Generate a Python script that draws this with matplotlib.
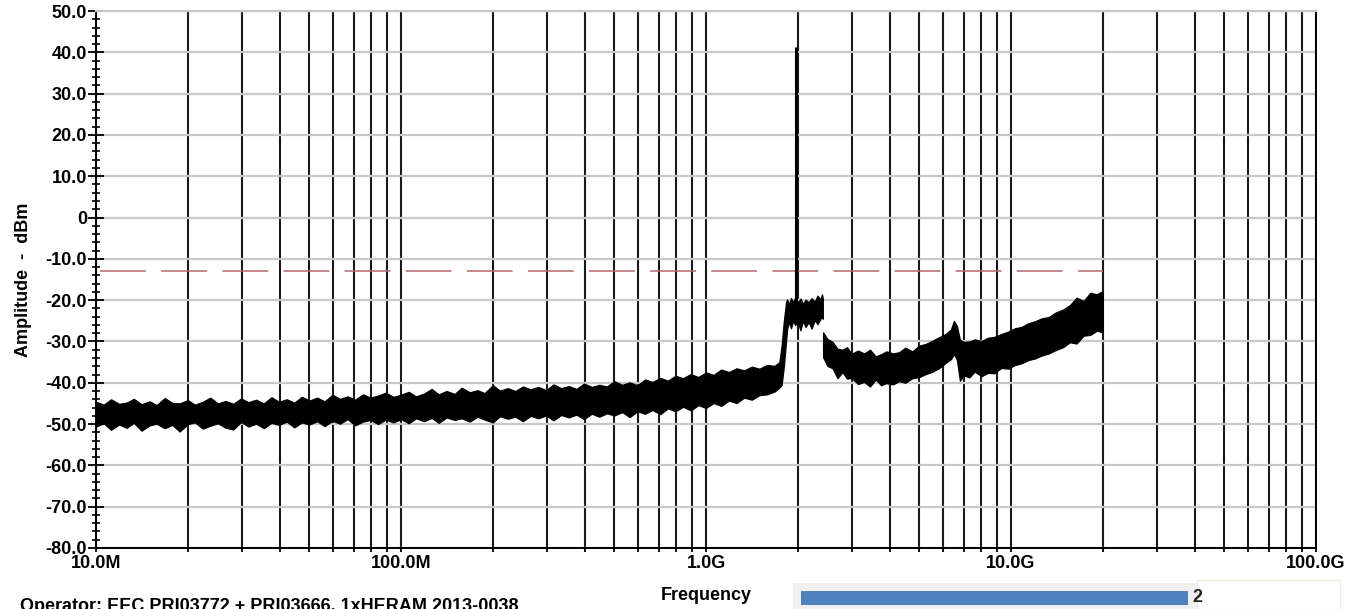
import matplotlib.pyplot as plt
import matplotlib.ticker as mticker
from matplotlib.patches import Rectangle
import numpy as np

plt.rcParams['font.family'] = ['Liberation Sans', 'DejaVu Sans']
plt.rcParams['font.weight'] = 'bold'

# Trace envelope: frequency, upper / lower edge (dBm)
# segment 1: 10 MHz up to the end of the 2 GHz plateau (MHz)
seg1_mhz = [10, 10.6, 11.2, 11.9, 12.6, 13.3, 14.1, 15.0, 15.8, 16.8,
            17.8, 18.8, 20.0, 21.1, 22.4, 23.7, 25.1, 26.6, 28.2, 29.9,
            31.6, 33.5, 35.5, 37.6, 39.8, 42.2, 44.7, 47.3, 50.1, 53.1,
            56.2, 59.6, 63.1, 66.8, 70.8, 75.0, 79.4, 84.1, 89.1, 94.4,
            100, 106, 112, 119, 126, 133, 141, 150, 158, 168,
            178, 188, 200, 211, 224, 237, 251, 266, 282, 299,
            316, 335, 355, 376, 398, 422, 447, 473, 501, 531,
            562, 596, 631, 668, 708, 750, 794, 841, 891, 944,
            1000, 1059, 1122, 1189, 1259, 1334, 1413, 1496, 1585, 1679, 1740,
            1770, 1800, 1830,
            1845, 1870, 1900, 1930, 1960, 2000, 2040, 2080, 2120, 2170, 2220,
            2270, 2320, 2370, 2400, 2415]
seg1_top = [-44.6, -45.3, -44.0, -45.1, -44.8, -43.9, -45.2, -44.5, -45.4, -43.7,
            -44.9, -45.0, -44.2, -45.3, -44.6, -43.6, -45.0, -44.4, -45.1, -43.8,
            -44.7, -44.1, -45.0, -43.5, -44.6, -44.0, -44.8, -43.4, -44.3, -43.6,
            -44.5, -42.9, -43.9, -43.3, -44.1, -42.8, -43.6, -43.1, -42.4, -43.4,
            -42.9, -42.2, -43.3, -42.6, -41.5, -42.8, -42.0, -42.7, -41.2, -42.3,
            -41.8, -42.5, -40.6, -41.9, -41.3, -42.0, -40.9, -41.6, -41.0, -41.8,
            -40.4, -41.3, -40.8, -41.5, -40.2, -41.0, -40.5, -40.9, -39.6, -40.5,
            -39.9, -40.6, -39.2, -39.8, -38.8, -39.5, -38.3, -38.9, -37.9, -38.6,
            -37.5, -38.1, -36.8, -37.4, -36.5, -37.0, -36.1, -36.6, -35.7, -35.9, -35.0,
            -31.0, -25.0, -20.5,
            -19.8, -21.0, -19.5, -20.6, -19.3, -20.8, -19.6, -20.9, -19.9, -20.5,
            -19.5, -20.4, -18.9, -19.8, -18.6, -19.6]
seg1_bot = [-50.6, -49.8, -51.4, -50.1, -50.9, -49.7, -51.6, -50.3, -49.9, -51.0,
            -50.2, -51.8, -50.0, -49.6, -51.1, -50.4, -49.8, -50.9, -51.3, -49.5,
            -50.6, -49.9, -51.0, -49.7, -50.2, -49.4, -50.8, -49.6, -50.1, -49.3,
            -50.5, -49.2, -49.9, -48.8, -50.3, -49.4, -49.0, -50.0, -48.9, -49.6,
            -48.8, -49.8, -48.6, -49.3, -48.5, -49.7, -48.4, -49.0, -48.6, -49.4,
            -48.2, -48.9, -49.6, -48.1, -48.7, -48.2, -49.3, -48.0, -48.6, -47.9,
            -49.1, -47.8, -48.4, -47.7, -48.8, -47.5, -48.2, -47.4, -47.9, -47.1,
            -48.3, -46.9, -47.5, -46.6, -47.6, -46.2, -46.9, -45.8, -46.7, -45.4,
            -46.1, -44.9, -45.6, -44.3, -44.9, -43.6, -44.1, -43.0, -42.8, -42.1, -41.2,
            -40.5, -36.0, -30.0,
            -27.0, -25.2, -26.8, -25.0, -26.0, -25.4, -27.3, -25.0, -26.5, -25.3,
            -26.9, -24.8, -25.8, -24.6, -23.8, -24.5]

# segment 2: 2.42 GHz to 20 GHz (GHz)
seg2_ghz = [2.42, 2.5, 2.6, 2.7, 2.8, 2.9, 3.0, 3.15, 3.3, 3.45, 3.6, 3.75, 3.9,
            4.1, 4.3, 4.5, 4.75, 5.0, 5.25, 5.5, 5.8, 6.1, 6.35, 6.5, 6.65, 6.8,
            7.0, 7.3, 7.6, 8.0, 8.4, 8.8, 9.3, 9.8, 10.3, 10.8, 11.4, 12.0, 12.6,
            13.3, 14.0, 14.8, 15.6, 16.4, 17.3, 18.2, 19.1, 20.0]
seg2_top = [-27.8, -29.4, -30.1, -31.8, -32.0, -31.4, -33.0, -32.2, -32.9, -32.0,
            -33.6, -33.1, -32.4, -32.9, -32.6, -31.5, -32.4, -31.0, -30.6, -29.9,
            -29.0, -28.2, -27.1, -25.0, -26.3, -29.6, -30.1, -30.0, -29.5, -29.9,
            -29.1, -28.9, -28.2, -27.6, -26.8, -26.5, -25.6, -25.1, -24.4, -24.1,
            -23.0, -22.3, -21.2, -19.4, -20.2, -18.2, -18.6, -17.8]
seg2_bot = [-33.8, -35.9, -36.5, -38.9, -37.4, -39.0, -38.8, -40.3, -39.8, -40.9,
            -39.2, -40.6, -40.1, -40.4, -39.6, -40.0, -38.9, -38.6, -37.9, -37.4,
            -36.5, -35.2, -34.3, -33.0, -34.5, -39.5, -38.2, -38.7, -37.3, -38.4,
            -37.6, -37.7, -36.4, -36.6, -35.7, -35.3, -34.5, -34.1, -33.4, -32.9,
            -32.1, -31.4, -30.2, -30.5, -28.6, -28.4, -27.4, -27.8]

carrier_hz = 1.97e9
carrier_base = -22.0
carrier_peak = 41.2

limit_level = -13.0
limit_start_hz = 10e6
limit_stop_hz = 20e9

ytick_vals = [50, 40, 30, 20, 10, 0, -10, -20, -30, -40, -50, -60, -70, -80]
ytick_labels = ['50.0', '40.0', '30.0', '20.0', '10.0', '0', '-10.0', '-20.0',
                '-30.0', '-40.0', '-50.0', '-60.0', '-70.0', '-80.0']
xtick_vals = [10e6, 100e6, 1e9, 10e9, 100e9]
xtick_labels = ['10.0M', '100.0M', '1.0G', '10.0G', '100.0G']

W, H = 1356, 609
fig = plt.figure(figsize=(W / 100, H / 100), dpi=100)
ax = fig.add_axes([96 / W, 1 - 548 / H, (1316 - 96) / W, (548 - 11) / H])

ax.set_xscale('log')
ax.set_xlim(10e6, 100e9)
ax.set_ylim(-80, 50)
ax.set_axisbelow(True)

# grid
ax.xaxis.set_minor_locator(mticker.LogLocator(base=10, subs=np.arange(2, 10)))
ax.xaxis.set_minor_formatter(mticker.NullFormatter())
ax.set_xticks(xtick_vals, xtick_labels)
ax.set_yticks(ytick_vals, ytick_labels)
ax.yaxis.set_minor_locator(mticker.MultipleLocator(2))
ax.grid(axis='x', which='both', color='#1a1a1a', lw=1.5)
ax.grid(axis='y', which='major', color='#c8c8c8', lw=1.6)

for s in ['left', 'bottom', 'right']:
    ax.spines[s].set_color('black')
    ax.spines[s].set_linewidth(1.4)
ax.spines['top'].set_color('#c8c8c8')
ax.spines['top'].set_linewidth(1.6)

ax.tick_params(axis='y', which='major', direction='inout', length=11, width=1.3,
               labelsize=13, pad=1)
ax.tick_params(axis='y', which='minor', direction='inout', length=6, width=1.2)
ax.tick_params(axis='x', which='both', direction='out', length=3, width=1.3,
               labelsize=13, pad=2)

# limit line
ax.plot([limit_start_hz, limit_stop_hz], [limit_level, limit_level],
        color='#b36a6a', lw=1.1, linestyle=(37.3, (30, 10)), zorder=2)

# trace
seg1_hz = np.array(seg1_mhz) * 1e6
seg2_hz = np.array(seg2_ghz) * 1e9
for fx, top, bot in [(seg1_hz, seg1_top, seg1_bot), (seg2_hz, seg2_top, seg2_bot)]:
    ax.fill_between(fx, bot, top, color='black', lw=0.9, edgecolor='black', zorder=3)
ax.vlines(carrier_hz, carrier_base, carrier_peak, color='black', lw=2.2, zorder=3)

ax.set_ylabel('Amplitude  -  dBm', fontsize=13, fontweight='bold', labelpad=10)

fig.text(706 / W, 1 - 595 / H, 'Frequency', ha='center', va='center',
         fontsize=13, fontweight='bold')
fig.text(20 / W, -2 / H, 'Operator: EEC PRI03772 + PRI03666, 1xHERAM 2013-0038',
         ha='left', va='baseline', fontsize=13, fontweight='bold')

fig.text(1192 / W, 1 - 598 / H, '2', ha='left', va='center', fontsize=13,
         fontweight='bold', color='#222222')
fig.patches.append(Rectangle((1197 / W, 0), 143 / W, 29 / H, transform=fig.transFigure,
                             facecolor='none', edgecolor='#f3eee2', lw=1))
fig.patches.append(Rectangle((793 / W, 0), 404 / W, 26 / H, transform=fig.transFigure,
                             facecolor='#f0f0f0', edgecolor='none'))
fig.patches.append(Rectangle((801 / W, 4 / H), 387 / W, 14 / H, transform=fig.transFigure,
                             facecolor='#4f81bd', edgecolor='none'))

fig.savefig('out.png', dpi=100)
